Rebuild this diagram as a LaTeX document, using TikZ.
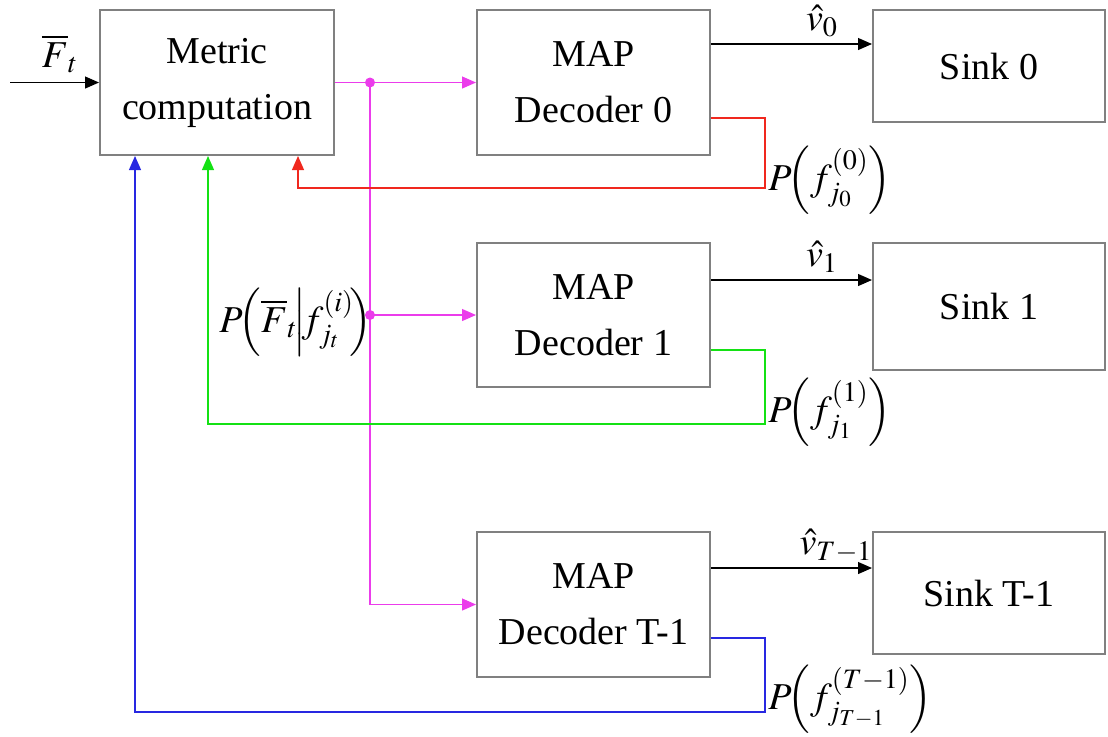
\documentclass[tikz,border=0pt]{standalone}
\usepackage{amsmath}
\usepackage{mathptmx}
\usepackage{fontspec}
\setmainfont{Liberation Serif}
\usetikzlibrary{arrows.meta}
\definecolor{cmag}{RGB}{235,60,235}
\definecolor{cred}{RGB}{240,40,30}
\definecolor{cgreen}{RGB}{20,225,20}
\definecolor{cblue}{RGB}{40,40,225}
\begin{document}
\begin{tikzpicture}[x=0.5pt,y=-0.5pt,
  font=\rmfamily\fontsize{19}{28}\selectfont,
  blk/.style={draw=black!50, line width=1pt, fill=white, align=center, inner sep=0pt},
  arr/.style={-{Triangle[length=7pt,width=6pt]}},
  wire/.style={line width=0.6pt},
  lbl/.style={inner sep=0pt}]
\useasboundingbox (0,0) rectangle (1108,736);

% processing blocks
\node[blk, minimum width=117pt, minimum height=72.5pt] (metric) at (217,82.5) {Metric\\computation};
\node[blk, minimum width=116.5pt, minimum height=72.5pt] (dec0) at (593.5,82.5) {MAP\\Decoder 0};
\node[blk, minimum width=116.5pt, minimum height=72pt] (dec1) at (593.5,315) {MAP\\Decoder 1};
\node[blk, minimum width=116.5pt, minimum height=72.5pt] (decT) at (593.5,604.5) {MAP\\Decoder T-1};
\node[blk, minimum width=116pt, minimum height=56pt] (sink0) at (989,66) {Sink 0};
\node[blk, minimum width=116pt, minimum height=63.5pt] (sink1) at (989,306.5) {Sink 1};
\node[blk, minimum width=116pt, minimum height=61pt] (sinkT) at (989,593) {Sink T-1};

% input
\coordinate (in) at (10,82.5);
\draw[wire,arr] (in) -- (metric.west);
\node[lbl] (Fin) at (60,54) {$\overline{F}_t$};

% metric distribution
\coordinate (split0) at (370,82.5);
\coordinate (split1) at (370,315);
\draw[wire,cmag,arr] (metric.east) -- (dec0.west);
\draw[wire,cmag] (split0) -- (split1);
\draw[wire,cmag,arr] (split1) |- (decT.west);
\draw[wire,cmag,arr] (split1) -- (dec1.west);
\fill[cmag] (split0) circle (2.5pt);
\fill[cmag] (split1) circle (2.5pt);
\node[lbl, anchor=base east] (pF) at (373,332)
  {$P\!\Bigl(\overline{F}_t\!\Big|\!f^{(i)}_{j_t}\!\Bigr)$};

% decoded outputs
\coordinate (o0) at (0,44);
\coordinate (o1) at (0,280);
\coordinate (oT) at (0,568);
\draw[wire,arr] (dec0.east |- o0) -- (sink0.west |- o0);
\draw[wire,arr] (dec1.east |- o1) -- (sink1.west |- o1);
\draw[wire,arr] (decT.east |- oT) -- (sinkT.west |- oT);
\node[lbl] (v0) at (822,21) {$\hat{v}_0$};
\node[lbl] (v1) at (822,257) {$\hat{v}_1$};
\node[lbl] (vT) at (836,546) {$\hat{v}_{T-1}$};

% a-priori feedback
\coordinate (r0) at (765,118);
\coordinate (r1) at (765,188);
\coordinate (r2) at (298,188);
\draw[wire,cred,arr] (dec0.east |- r0) -- (r0) -- (r1) -- (r2) -- (r2 |- metric.south);
\node[lbl, anchor=base west] (p0) at (768,190) {$P\!\Bigl(f^{(0)}_{j_0}\Bigr)$};

\coordinate (g0) at (765,350);
\coordinate (g1) at (765,424);
\coordinate (g2) at (208,424);
\draw[wire,cgreen,arr] (dec1.east |- g0) -- (g0) -- (g1) -- (g2) -- (g2 |- metric.south);
\node[lbl, anchor=base west] (p1) at (768,422) {$P\!\Bigl(f^{(1)}_{j_1}\Bigr)$};

\coordinate (b0) at (765,638);
\coordinate (b1) at (765,712);
\coordinate (b2) at (135,712);
\draw[wire,cblue,arr] (decT.east |- b0) -- (b0) -- (b1) -- (b2) -- (b2 |- metric.south);
\node[lbl, anchor=base west] (pT) at (768,709) {$P\!\Bigl(f^{(T-1)}_{j_{T-1}}\Bigr)$};
\end{tikzpicture}
\end{document}
